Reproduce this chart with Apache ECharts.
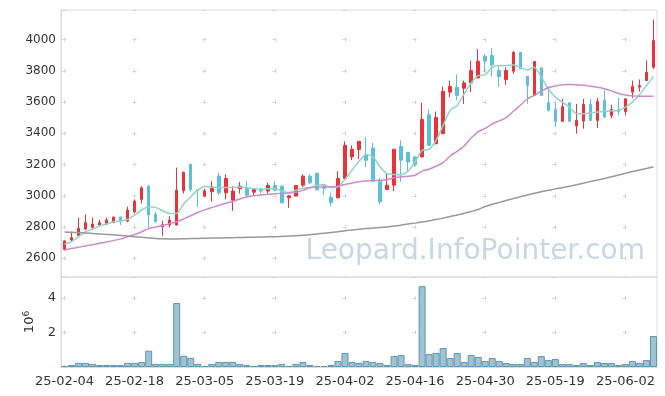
<!DOCTYPE html>
<html><head><meta charset="utf-8">
<script src="https://cdn.jsdelivr.net/npm/echarts@6/dist/echarts.min.js"></script>
<style>html,body{margin:0;padding:0;background:#fff}#c{width:665px;height:396px}</style>
</head><body><div id="c"></div>
<script>
const dates = ['25-02-04','25-02-05','25-02-06','25-02-07','25-02-10','25-02-11','25-02-12','25-02-13','25-02-14','25-02-17',
'25-02-18','25-02-19','25-02-20','25-02-21','25-02-24','25-02-25','25-02-26','25-02-27','25-02-28','25-03-04',
'25-03-05','25-03-06','25-03-07','25-03-10','25-03-11','25-03-12','25-03-13','25-03-14','25-03-17','25-03-18',
'25-03-19','25-03-20','25-03-21','25-03-24','25-03-25','25-03-26','25-03-27','25-03-28','25-03-31','25-04-01',
'25-04-02','25-04-03','25-04-04','25-04-07','25-04-08','25-04-09','25-04-10','25-04-11','25-04-14','25-04-15',
'25-04-16','25-04-17','25-04-18','25-04-21','25-04-22','25-04-23','25-04-24','25-04-25','25-04-28','25-04-29',
'25-04-30','25-05-02','25-05-07','25-05-08','25-05-09','25-05-12','25-05-13','25-05-14','25-05-15','25-05-16',
'25-05-19','25-05-20','25-05-21','25-05-22','25-05-23','25-05-26','25-05-27','25-05-28','25-05-29','25-05-30',
'25-06-02','25-06-04','25-06-05','25-06-09','25-06-10'];

const open = [2657,2717,2745,2787,2798,2813,2819,2828,2864,2838,
2898,2977,3062,2883,2802,2813,2813,3032,3202,3038,
2998,3026,3126,3019,2972,3045,3047,3023,3043,3030,
3066,3062,2987,2998,3068,3126,3145,3064,2991,2987,
3111,3249,3296,3260,3306,3094,3040,3068,3317,3277,
3249,3249,3519,3334,3398,3664,3696,3689,3723,3755,
3894,3898,3802,3745,3798,3919,3764,3643,3819,3596,
3553,3477,3596,3447,3479,3585,3483,3611,3515,3553,
3540,3664,3696,3738,3823];
const close = [2711,2732,2791,2828,2819,2828,2845,2864,2838,2909,
2966,3051,2877,2834,2815,2845,3036,3151,3040,3034,
3032,3057,3019,3111,3030,3062,3004,3043,3030,3066,
3036,2955,3000,3066,3126,3083,3038,3047,2955,3111,
3323,3298,3349,3228,3094,2962,3068,3298,3228,3217,
3200,3489,3323,3502,3668,3700,3643,3723,3802,3862,
3862,3838,3764,3802,3919,3813,3706,3860,3643,3547,
3477,3572,3477,3483,3585,3483,3604,3504,3553,3540,
3621,3700,3706,3791,3994];
const low = [2650,2706,2745,2781,2781,2813,2813,2826,2813,2830,
2887,2951,2791,2828,2743,2798,2811,3015,3026,2930,
2994,2962,3004,2977,2904,3015,2994,3006,3015,3015,
3030,2951,2923,2998,3057,3074,3034,3004,2932,2985,
3109,3228,3234,3185,3089,2945,3038,3030,3089,3153,
3185,3247,3321,3328,3396,3632,3611,3589,3664,3753,
3791,3764,3696,3711,3781,3811,3589,3641,3641,3540,
3440,3475,3475,3398,3430,3481,3434,3498,3498,3515,
3515,3626,3668,3736,3813];
const high = [2715,2770,2860,2881,2860,2845,2860,2866,2866,2930,
2977,3062,3068,2898,2840,2870,3181,3155,3204,3040,
3047,3094,3147,3138,3062,3089,3094,3045,3053,3083,
3096,3066,3004,3068,3138,3136,3147,3068,3021,3157,
3349,3323,3351,3377,3338,3115,3143,3300,3355,3281,
3255,3596,3553,3540,3700,3738,3777,3738,3866,3940,
3909,3947,3834,3823,3926,3921,3766,3862,3821,3702,
3596,3621,3598,3589,3621,3621,3628,3674,3583,3628,
3623,3738,3745,3866,4128];
// volume in millions of shares
const volume = [0.05,0.12,0.24,0.24,0.18,0.12,0.12,0.12,0.12,0.24,
0.24,0.29,0.94,0.18,0.18,0.18,3.7,0.65,0.53,0.18,
0.06,0.18,0.29,0.29,0.29,0.18,0.12,0.06,0.12,0.12,
0.12,0.18,0.06,0.18,0.29,0.12,0.06,0.06,0.12,0.35,
0.81,0.29,0.23,0.35,0.29,0.23,0.12,0.63,0.69,0.17,
0.12,4.67,0.75,0.81,1.10,0.52,0.81,0.29,0.69,0.58,
0.35,0.52,0.35,0.23,0.17,0.17,0.52,0.29,0.63,0.40,
0.46,0.17,0.17,0.12,0.23,0.12,0.29,0.23,0.23,0.12,
0.17,0.35,0.23,0.40,1.79];
const ma5 = [2691,2706,2738,2770,2787,2806,2819,2834,2838,2849,
2877,2909,2930,2926,2904,2887,2887,2947,2994,3036,
3062,3053,3053,3053,3053,3057,3053,3045,3040,3045,
3045,3030,3021,3036,3049,3053,3068,3072,3051,3057,
3106,3164,3221,3264,3249,3185,3143,3136,3134,3157,
3217,3291,3298,3355,3451,3547,3579,3653,3723,3770,
3775,3823,3834,3834,3838,3823,3806,3823,3760,3685,
3632,3600,3568,3526,3526,3530,3536,3540,3545,3547,
3568,3600,3647,3706,3766];
const ma20 = [2653,2662,2670,2679,2687,2696,2704,2713,2724,2738,
2752,2770,2790,2800,2810,2822,2834,2852,2872,2893,
2910,2925,2938,2952,2964,2980,2992,3000,3005,3010,
3013,3016,3018,3022,3035,3052,3057,3057,3058,3062,
3072,3082,3090,3095,3097,3099,3104,3115,3121,3126,
3132,3158,3170,3190,3212,3255,3285,3320,3370,3410,
3432,3460,3480,3500,3540,3580,3620,3643,3670,3692,
3704,3712,3713,3712,3708,3702,3695,3686,3672,3655,
3645,3640,3638,3638,3638];
const ma120 = [2768,2766,2764,2762,2759,2756,2753,2750,2746,2742,
2738,2734,2730,2727,2725,2724,2724,2725,2726,2727,
2728,2729,2730,2731,2732,2733,2734,2735,2736,2737,
2738,2740,2742,2744,2747,2751,2756,2760,2765,2770,
2776,2781,2786,2790,2794,2797,2801,2806,2812,2819,
2825,2832,2840,2848,2857,2867,2877,2888,2900,2912,
2932,2946,2958,2970,2982,2994,3005,3016,3026,3035,
3044,3052,3061,3071,3081,3091,3101,3111,3122,3133,
3144,3155,3165,3175,3185];

const candles = dates.map((d, i) => [open[i], close[i], low[i], high[i]]);
const FONT = 'DejaVu Sans';
const gridCol = '#dcdcdc';
const crossCol = '#d4d4d4';
const plain = v => String(v);

const chart = echarts.init(document.getElementById('c'), null, {renderer: 'canvas'});
chart.setOption({
  animation: false,
  backgroundColor: '#fff',
  textStyle: {fontFamily: FONT},
  graphic: [{
    type: 'text', right: 20, top: 238, z: 0, silent: true,
    style: {text: 'Leopard.InfoPointer.com', font: '28px "DejaVu Sans"', fill: '#c6d8e3'}
  }],
  grid: [
    {left: 61, right: 8, top: 10, height: 267, show: true, borderColor: gridCol, borderWidth: 1},
    {left: 61, right: 8, top: 277, height: 90, show: true, borderColor: gridCol, borderWidth: 1}
  ],
  xAxis: [
    {type: 'category', gridIndex: 0, data: dates, boundaryGap: true,
     axisLine: {show: false}, axisTick: {show: false}, axisLabel: {show: false},
     splitLine: {show: true, interval: 9, alignWithLabel: true,
       lineStyle: {color: crossCol, width: 1, type: [4, 27.23], dashOffset: 3.56}}},
    {type: 'category', gridIndex: 1, data: dates, boundaryGap: true,
     axisLine: {show: true, lineStyle: {color: gridCol}}, axisTick: {show: false},
     axisLabel: {interval: 9, color: '#333', fontSize: 13, fontFamily: FONT, margin: 8},
     splitLine: {show: true, interval: 9, alignWithLabel: true,
       lineStyle: {color: crossCol, width: 1, type: [4, 30.6], dashOffset: 15.8}}}
  ],
  yAxis: [
    {type: 'value', gridIndex: 0, min: 2480, max: 4190, splitNumber: 8,
     axisLine: {show: true, lineStyle: {color: gridCol}}, axisTick: {show: false},
     axisLabel: {color: '#333', fontSize: 12, fontFamily: FONT, margin: 5, formatter: plain,
                 showMinLabel: false, showMaxLabel: false},
     splitLine: {show: true, lineStyle: {color: crossCol, width: 1, type: [4, 66], dashOffset: 68.5}}},
    {type: 'value', gridIndex: 1, min: 0, max: 5.2, interval: 2,
     axisLine: {show: true, lineStyle: {color: gridCol}}, axisTick: {show: false},
     axisLabel: {color: '#333', fontSize: 13, fontFamily: FONT, margin: 5, formatter: plain,
                 showMinLabel: false, showMaxLabel: false},
     splitLine: {show: true, lineStyle: {color: crossCol, width: 1, type: [4, 66], dashOffset: 68.5}},
     name: '{a|10}{b|6}', nameLocation: 'middle', nameRotate: 90, nameGap: 24,
     nameTextStyle: {rich: {a: {fontSize: 13, color: '#333', fontFamily: FONT},
                            b: {fontSize: 9, color: '#333', fontFamily: FONT, verticalAlign: 'top', padding: [0, 0, 6, 0]}}}}
  ],
  series: [
    {type: 'candlestick', xAxisIndex: 0, yAxisIndex: 0, data: candles, barWidth: 3,
     itemStyle: {color: '#e8333b', color0: '#5bc0dc', borderColor: '#e8333b', borderColor0: '#5bc0dc', borderWidth: 1}},
    {type: 'line', xAxisIndex: 0, yAxisIndex: 0, data: ma5, symbol: 'none', smooth: 0.2,
     lineStyle: {color: '#93d3c7', width: 1.5}, z: 3},
    {type: 'line', xAxisIndex: 0, yAxisIndex: 0, data: ma20, symbol: 'none', smooth: 0.3,
     lineStyle: {color: '#cc8ccc', width: 1.5}, z: 3},
    {type: 'line', xAxisIndex: 0, yAxisIndex: 0, data: ma120, symbol: 'none', smooth: 0.3,
     lineStyle: {color: '#999999', width: 1.5}, z: 3},
    {type: 'bar', xAxisIndex: 1, yAxisIndex: 1, data: volume, barWidth: '100%',
     itemStyle: {color: '#9ec3d4', borderColor: '#6296ae', borderWidth: 1}}
  ]
});
</script>
</body></html>
